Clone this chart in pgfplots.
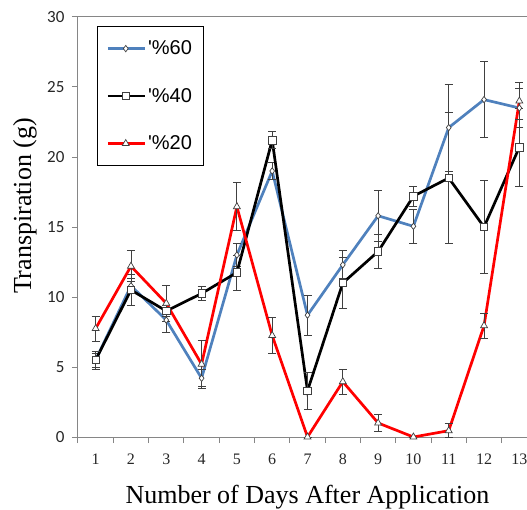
\documentclass[border=0pt]{standalone}
\usepackage{fontspec}
\setmainfont{Liberation Serif}
\newfontfamily\legfont{Liberation Sans}
\newfontfamily\tickfont{Carlito}
\usepackage{pgfplots}
\pgfplotsset{compat=1.18}

\definecolor{sixty}{HTML}{4F81BD}
\definecolor{axisgray}{HTML}{868686}
\definecolor{errgray}{HTML}{404040}

\pgfplotsset{
  series/.style={line width=2.7pt, mark options={fill=white, draw=errgray, line width=0.7pt, solid},
    error bars/.cd, y dir=both, y explicit,
    error bar style={errgray, line width=0.8pt},
    error mark options={errgray, line width=0.8pt, mark size=4pt, rotate=90}},
}

\begin{document}
\begin{tikzpicture}
\begin{axis}[
    name=ax,
    scale only axis,
    width=459pt, height=420pt,
    xmin=0.5, xmax=13.5,
    ymin=0, ymax=30,
    tick pos=left,
    tick align=outside,
    xtick={1,...,13},
    minor xtick={0.5,1.5,...,13.5},
    major x tick style={draw=none},
    ytick={0,5,...,30},
    major tick length=6pt,
    minor tick length=6pt,
    axis line style={axisgray, line width=1pt},
    every tick/.style={axisgray, line width=1pt},
    /pgf/number format/assume math mode=true,
    yticklabel style={font=\tickfont\fontsize{17}{17}\selectfont, color=black!85, xshift=-4pt},
    xticklabel style={font=\fontsize{16}{16}\selectfont, color=black!85, yshift=-7pt},
    xlabel={Number of Days After Application},
    xlabel style={font=\fontsize{26}{26}\selectfont, at={(rel axis cs:0.5,0)}, anchor=base, yshift=-66pt},
    ylabel={Transpiration (g)},
    ylabel style={font=\fontsize{26}{26}\selectfont, at={(rel axis cs:0,0.55)}, anchor=center, yshift=53pt},
    legend style={at={(rel axis cs:0.0414,0.9786)}, anchor=north west,
      draw=black, line width=0.8pt, inner xsep=9pt, inner ysep=12.5pt,
      font=\legfont\fontsize{20}{20}\selectfont, row sep=28pt},
    legend cell align=left,
    legend image code/.code={
      \draw[mark repeat=2, mark phase=2, #1] plot coordinates {(0pt,0pt) (18pt,0pt) (37pt,0pt)};},
]

% 60%
\addplot[sixty, mark=diamond*, mark size=3.2pt, series] coordinates {
  (1,5.5) +- (0,0.5)
  (2,10.8) +- (0,0.5)
  (3,8.35) +- (0,0.9)
  (4,4.2) +- (0,0.6)
  (5,13.0) +- (0,0.8)
  (6,19.0) +- (0,0.6)
  (7,8.7) +- (0,1.45)
  (8,12.3) +- (0,1.0)
  (9,15.8) +- (0,1.8)
  (10,15.05) +- (0,1.2)
  (11,22.1) +- (0,3.1)
  (12,24.1) +- (0,2.7)
  (13,23.5) +- (0,1.4)
};
\addlegendentry{\textquotesingle\%60}

% 40%
\addplot[black, mark=square*, mark size=3.7pt, series] coordinates {
  (1,5.5) +- (0,0.65)
  (2,10.5) +- (0,1.1)
  (3,9.0) +- (0,0.4)
  (4,10.25) +- (0,0.5)
  (5,11.75) +- (0,1.25)
  (6,21.2) +- (0,0.6)
  (7,3.3) +- (0,1.3)
  (8,11.0) +- (0,1.8)
  (9,13.25) +- (0,1.2)
  (10,17.2) +- (0,0.7)
  (11,18.5) +- (0,4.7)
  (12,15.0) +- (0,3.3)
  (13,20.7) +- (0,2.8)
};
\addlegendentry{\textquotesingle\%40}

% 20%
\addplot[red, mark=triangle*, mark size=4pt, series] coordinates {
  (1,7.75) +- (0,0.9)
  (2,12.2) +- (0,1.1)
  (3,9.55) +- (0,1.3)
  (4,5.2) +- (0,1.7)
  (5,16.45) +- (0,1.7)
  (6,7.25) +- (0,1.3)
  (7,0) +- (0,0)
  (8,3.95) +- (0,0.9)
  (9,1.0) +- (0,0.6)
  (10,0) +- (0,0)
  (11,0.45) +- (0,0.5)
  (12,7.95) +- (0,0.9)
  (13,24.0) +- (0,1.3)
};
\addlegendentry{\textquotesingle\%20}

\end{axis}
\pgfresetboundingbox
\path[use as bounding box] ([xshift=-78pt,yshift=17pt]ax.north west) rectangle ([xshift=449pt,yshift=-72pt]ax.south west);
\end{tikzpicture}
\end{document}
